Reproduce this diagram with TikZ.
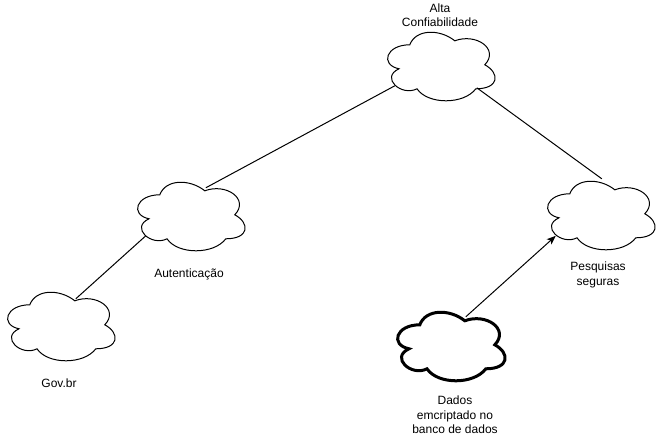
\documentclass[tikz,border=0pt]{standalone}
\usepackage{fontspec}
\setmainfont{Liberation Sans}
\usetikzlibrary{calc,arrows.meta}
\tikzset{
  cloudbox/.style={minimum width=120pt,minimum height=80pt,inner sep=0pt,draw=none},
  lbl/.style={inner sep=0pt,align=center,font=\fontsize{12}{14.4}\selectfont},
  link/.style={draw=black,line width=1pt},
  cloudline/.style={draw=black,line width=1pt,fill=white},
  thickcloud/.style={draw=black,line width=3pt,fill=white}
}
\newcommand{\cloudshape}[2]{%
  \begin{scope}[shift={(#2.north west)},x=120pt,y=-80pt]
    \path[#1] (0.25,0.25) .. controls (0.05,0.25) and (0,0.5) .. (0.16,0.55)
      .. controls (0,0.66) and (0.18,0.9) .. (0.31,0.8)
      .. controls (0.4,1) and (0.7,1) .. (0.8,0.8)
      .. controls (1,0.8) and (1,0.6) .. (0.875,0.5)
      .. controls (1,0.3) and (0.8,0.1) .. (0.625,0.2)
      .. controls (0.5,0.05) and (0.3,0.05) .. (0.25,0.25) -- cycle;
  \end{scope}}
\begin{document}
\begin{tikzpicture}[x=1pt,y=-1pt]
\fill[white] (0,0) rectangle (661,435);
\useasboundingbox (0,0) rectangle (661,435);

\node[cloudbox] (top) at (440,65) {};
\node[cloudbox] (auth) at (190,215) {};
\node[cloudbox] (gov) at (60,325) {};
\node[cloudbox] (pesq) at (600,214) {};
\node[cloudbox] (dados) at (450,345) {};

\cloudshape{cloudline}{top}
\cloudshape{cloudline}{auth}
\cloudshape{cloudline}{gov}
\cloudshape{cloudline}{pesq}
\cloudshape{thickcloud}{dados}

\node[lbl] (ltop) at (440,15) {Alta\\Confiabilidade};
\node[lbl] (lauth) at (189,274) {Autenticação};
\node[lbl] (lgov) at (59,383) {Gov.br};
\node[lbl] (lpesq) at (598,275) {Pesquisas\\seguras};
\node[lbl] (ldados) at (455,415) {Dados\\emcriptado no\\banco de dados};

\coordinate (tA) at ($(top.north west)+(15,61)$);
\coordinate (tP) at ($(top.north west)+(97,63)$);
\coordinate (aT) at ($(auth.north west)+(76,13)$);
\coordinate (aG) at ($(auth.north west)+(16,61)$);
\coordinate (gA) at ($(gov.north west)+(76,14)$);
\coordinate (pT) at ($(pesq.north west)+(62,5)$);
\coordinate (pD) at ($(pesq.north west)+(16,62)$);
\coordinate (dP) at ($(dados.north west)+(76,12)$);

\draw[link] (tA) -- (aT);
\draw[link] (tP) -- (pT);
\draw[link] (aG) -- (gA);
\draw[link,-{Stealth[length=9pt,width=7pt,inset=2pt]}] (dP) -- (pD);
\end{tikzpicture}
\end{document}
